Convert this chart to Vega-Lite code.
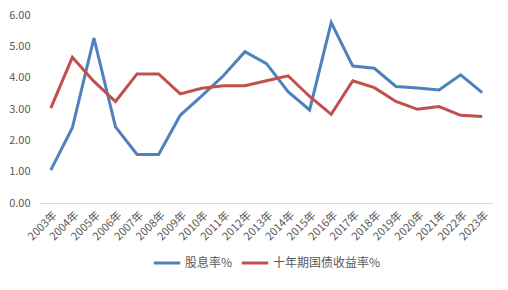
{
  "$schema": "https://vega.github.io/schema/vega-lite/v6.json",
  "width": 453,
  "height": 188,
  "padding": {"left": 8, "top": 9, "right": 5, "bottom": 5},
  "background": "white",
  "config": {
    "view": {"stroke": null},
    "font": "Noto Sans CJK SC",
    "legend": {"layout": {"bottom": {"anchor": "middle"}}}
  },
  "data": {
    "values": [
      {"year": "2003年", "series": "股息率%", "value": 1.05},
      {"year": "2004年", "series": "股息率%", "value": 2.4},
      {"year": "2005年", "series": "股息率%", "value": 5.26},
      {"year": "2006年", "series": "股息率%", "value": 2.43},
      {"year": "2007年", "series": "股息率%", "value": 1.55},
      {"year": "2008年", "series": "股息率%", "value": 1.55},
      {"year": "2009年", "series": "股息率%", "value": 2.8},
      {"year": "2010年", "series": "股息率%", "value": 3.42},
      {"year": "2011年", "series": "股息率%", "value": 4.06},
      {"year": "2012年", "series": "股息率%", "value": 4.83},
      {"year": "2013年", "series": "股息率%", "value": 4.45},
      {"year": "2014年", "series": "股息率%", "value": 3.55},
      {"year": "2015年", "series": "股息率%", "value": 2.97},
      {"year": "2016年", "series": "股息率%", "value": 5.76},
      {"year": "2017年", "series": "股息率%", "value": 4.37},
      {"year": "2018年", "series": "股息率%", "value": 4.3},
      {"year": "2019年", "series": "股息率%", "value": 3.72},
      {"year": "2020年", "series": "股息率%", "value": 3.67},
      {"year": "2021年", "series": "股息率%", "value": 3.61},
      {"year": "2022年", "series": "股息率%", "value": 4.09},
      {"year": "2023年", "series": "股息率%", "value": 3.52},
      {"year": "2003年", "series": "十年期国债收益率%", "value": 3.03},
      {"year": "2004年", "series": "十年期国债收益率%", "value": 4.65},
      {"year": "2005年", "series": "十年期国债收益率%", "value": 3.88},
      {"year": "2006年", "series": "十年期国债收益率%", "value": 3.24},
      {"year": "2007年", "series": "十年期国债收益率%", "value": 4.12},
      {"year": "2008年", "series": "十年期国债收益率%", "value": 4.12},
      {"year": "2009年", "series": "十年期国债收益率%", "value": 3.48},
      {"year": "2010年", "series": "十年期国债收益率%", "value": 3.66},
      {"year": "2011年", "series": "十年期国债收益率%", "value": 3.74},
      {"year": "2012年", "series": "十年期国债收益率%", "value": 3.74},
      {"year": "2013年", "series": "十年期国债收益率%", "value": 3.9},
      {"year": "2014年", "series": "十年期国债收益率%", "value": 4.06},
      {"year": "2015年", "series": "十年期国债收益率%", "value": 3.4},
      {"year": "2016年", "series": "十年期国债收益率%", "value": 2.83},
      {"year": "2017年", "series": "十年期国债收益率%", "value": 3.9},
      {"year": "2018年", "series": "十年期国债收益率%", "value": 3.68},
      {"year": "2019年", "series": "十年期国债收益率%", "value": 3.24},
      {"year": "2020年", "series": "十年期国债收益率%", "value": 2.99},
      {"year": "2021年", "series": "十年期国债收益率%", "value": 3.08},
      {"year": "2022年", "series": "十年期国债收益率%", "value": 2.8},
      {"year": "2023年", "series": "十年期国债收益率%", "value": 2.76}
    ]
  },
  "mark": {"type": "line", "strokeWidth": 3},
  "encoding": {
    "x": {
      "field": "year",
      "type": "ordinal",
      "scale": {"type": "point", "padding": 0.5},
      "axis": {
        "title": null,
        "labelAngle": -45,
        "labelFontSize": 11,
        "labelColor": "#595959",
        "ticks": false,
        "labelPadding": 6,
        "domainColor": "#D9D9D9",
        "domainWidth": 1
      }
    },
    "y": {
      "field": "value",
      "type": "quantitative",
      "scale": {"domain": [0, 6]},
      "axis": {
        "title": null,
        "values": [0, 1, 2, 3, 4, 5, 6],
        "format": ".2f",
        "grid": false,
        "domain": false,
        "ticks": false,
        "labelPadding": 10,
        "labelFontSize": 11,
        "labelColor": "#595959"
      }
    },
    "color": {
      "field": "series",
      "type": "nominal",
      "sort": ["股息率%", "十年期国债收益率%"],
      "scale": {"domain": ["股息率%", "十年期国债收益率%"], "range": ["#4F81BD", "#C0504D"]},
      "legend": {
        "title": null,
        "orient": "bottom",
        "direction": "horizontal",
        "symbolType": "stroke",
        "symbolSize": 700,
        "symbolStrokeWidth": 3,
        "labelFontSize": 12,
        "labelOffset": 3,
        "labelColor": "#595959",
        "columnPadding": 2,
        "symbolOffset": 0,
        "offset": 6
      }
    }
  }
}
